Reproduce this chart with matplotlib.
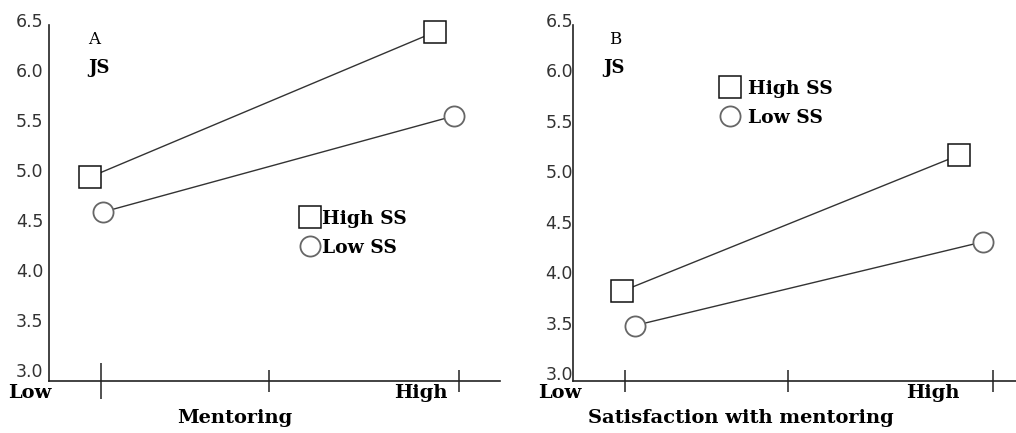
import matplotlib.pyplot as plt
from matplotlib.lines import Line2D

W, H = 1016, 433

# data
levels = ["Low", "High"]
ytick_values = [3.0, 3.5, 4.0, 4.5, 5.0, 5.5, 6.0, 6.5]
js_high_ss_a = [4.93, 6.38]
js_low_ss_a = [4.58, 5.54]
js_high_ss_b = [3.81, 5.16]
js_low_ss_b = [3.47, 4.30]

serif = ["DejaVu Serif"]
sans = ["DejaVu Sans"]
line_col = "#333333"


def px(x, y):
    return x / W, 1 - y / H


def make_panel(rect, xlim, ylim, xticks, big_first, high, low, x_off,
               letter, letter_xy, js_xy, low_xy, high_xy, xlabel, xlabel_xy,
               legend_xy, ypad, textpad):
    ax = fig.add_axes(rect)
    ax.set_xlim(*xlim)
    ax.set_ylim(*ylim)
    for s in ["top", "right"]:
        ax.spines[s].set_visible(False)
    ax.spines["left"].set_bounds(ylim[0], 6.45)
    for s in ["left", "bottom"]:
        ax.spines[s].set_color("#222222")
        ax.spines[s].set_linewidth(1.2)

    ax.set_yticks(ytick_values)
    ax.set_yticklabels([f"{v:.1f}" for v in ytick_values], family=sans,
                       fontsize=12.5, color="#333333")
    ax.tick_params(axis="y", length=0, pad=ypad)

    ax.set_xticks(xticks)
    ax.set_xticklabels([])
    ax.tick_params(axis="x", direction="inout", length=16, width=1.1,
                   color="#222222")
    if big_first:
        ax.xaxis.get_major_ticks()[0].tick1line.set_markersize(26)

    xs = [0, 1]
    ax.plot([x + o for x, o in zip(xs, x_off[0])], high, color=line_col,
            lw=1.0, marker="s", ms=16, mfc="white", mec="#111111", mew=1.1)
    ax.plot([x + o for x, o in zip(xs, x_off[1])], low, color=line_col,
            lw=1.0, marker="o", ms=14.5, mfc="white", mec="#666666", mew=1.3)

    fig.text(*px(*letter_xy), letter, family=serif, fontsize=12,
             ha="left", va="center")
    fig.text(*px(*js_xy), "JS", family=serif, fontsize=13,
             fontweight="bold", ha="left", va="center")
    fig.text(*px(*low_xy), levels[0], family=serif, fontsize=14,
             fontweight="bold", ha="left", va="center")
    fig.text(*px(*high_xy), levels[1], family=serif, fontsize=14,
             fontweight="bold", ha="left", va="center")
    fig.text(*px(*xlabel_xy), xlabel, family=serif, fontsize=14,
             fontweight="bold", ha="center", va="center")

    handles = [
        Line2D([], [], ls="none", marker="s", ms=16, mfc="white",
               mec="#111111", mew=1.1, label="High SS"),
        Line2D([], [], ls="none", marker="o", ms=14.5, mfc="white",
               mec="#666666", mew=1.3, label="Low SS"),
    ]
    ax.legend(handles=handles, loc="upper left",
              bbox_to_anchor=px(*legend_xy),
              bbox_transform=fig.transFigure, frameon=False,
              handlelength=0.8, handletextpad=textpad, labelspacing=0.58,
              borderpad=0, borderaxespad=0,
              prop={"family": serif, "weight": "bold", "size": 13.5})
    return ax


fig = plt.figure(figsize=(W / 100, H / 100), dpi=100)

# panel A
make_panel(
    rect=[49 / W, (H - 381) / H, (500 - 49) / W, (381 - 20) / H],
    xlim=(-0.145, 1.115), ylim=(2.89, 6.5),
    xticks=[0, 0.47, 1], big_first=True,
    high=js_high_ss_a, low=js_low_ss_a,
    x_off=[(-0.03, -0.067), (0.006, -0.014)],
    letter="A", letter_xy=(88, 40), js_xy=(88, 68),
    low_xy=(8, 393), high_xy=(394, 393),
    xlabel="Mentoring", xlabel_xy=(235, 418),
    legend_xy=(302, 210), ypad=4, textpad=0.25,
)

# panel B
make_panel(
    rect=[573 / W, (H - 381) / H, (1016 - 573) / W, (381 - 20) / H],
    xlim=(-0.141, 1.063), ylim=(2.92, 6.5),
    xticks=[0, 0.443, 1], big_first=False,
    high=js_high_ss_b, low=js_low_ss_b,
    x_off=[(-0.008, -0.092), (0.027, -0.027)],
    letter="B", letter_xy=(609, 40), js_xy=(603, 68),
    low_xy=(538, 393), high_xy=(906, 393),
    xlabel="Satisfaction with mentoring", xlabel_xy=(741, 418),
    legend_xy=(722, 80), ypad=0, textpad=0.6,
)

fig.savefig("out.png", dpi=100)
